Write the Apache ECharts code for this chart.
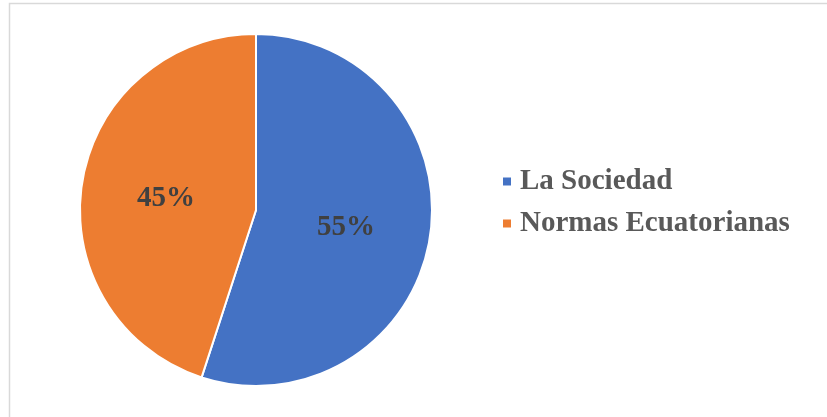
<!DOCTYPE html>
<html>
<head>
<meta charset="utf-8">
<script src="https://cdn.jsdelivr.net/npm/echarts@6/dist/echarts.min.js"></script>
<style>html,body{margin:0;padding:0;background:#fff;}#c{width:827px;height:417px;}</style>
</head>
<body>
<div id="c"></div>
<script>
const categories = ['La Sociedad', 'Normas Ecuatorianas'];
const values = [55, 45];
const colors = ['#4472C4', '#ED7D31'];

const chart = echarts.init(document.getElementById('c'), null, {renderer: 'canvas'});
chart.setOption({
  animation: false,
  backgroundColor: '#ffffff',
  color: colors,
  graphic: [{
    type: 'rect',
    shape: {x: 9.5, y: 3.5, width: 830, height: 430},
    style: {fill: 'none', stroke: '#d9d9d9', lineWidth: 1.5},
    silent: true
  }],
  legend: {
    orient: 'vertical',
    left: 501,
    top: 167,
    padding: 0,
    icon: 'rect',
    itemWidth: 10,
    itemHeight: 10,
    itemGap: 13,
    textStyle: {
      fontFamily: 'Liberation Serif',
      fontWeight: 'bold',
      fontSize: 29,
      lineHeight: 29,
      color: '#595959',
      padding: [0, 0, 0, 3]
    },
    data: categories
  },
  series: [{
    type: 'pie',
    center: [256, 210],
    radius: 176,
    startAngle: 90,
    clockwise: true,
    itemStyle: {borderColor: '#ffffff', borderWidth: 2},
    label: {
      show: true,
      position: 'inside',
      formatter: p => p.value + '%',
      fontFamily: 'Liberation Serif',
      fontWeight: 'bold',
      fontSize: 29,
      color: '#404040',
      offset: [0, 3]
    },
    labelLine: {show: false},
    emphasis: {disabled: true},
    data: categories.map((c, i) => ({name: c, value: values[i]}))
  }]
});
</script>
</body>
</html>
